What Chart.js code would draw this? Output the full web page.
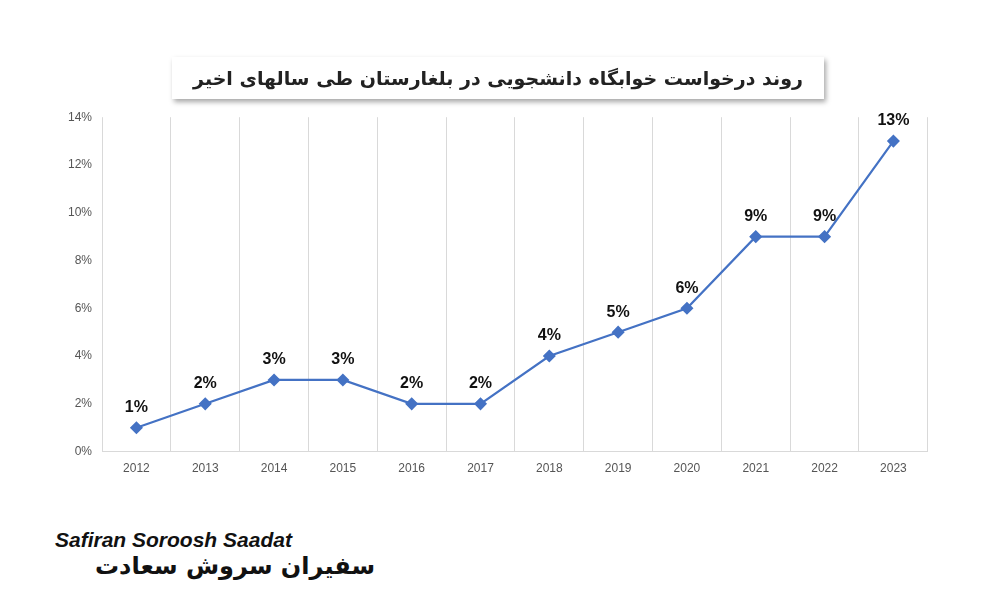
<!DOCTYPE html>
<html>
<head>
<meta charset="utf-8">
<script src="https://cdn.jsdelivr.net/npm/chart.js@4/dist/chart.umd.min.js"></script>
<style>
  body { margin: 0; background: #fff; }
  #wrap { position: relative; width: 1000px; height: 600px; }
  #title {
    position: absolute; left: 172px; top: 57px; width: 652px; height: 42px;
    background: #fff; box-shadow: 2px 3px 5px rgba(0,0,0,0.35);
    font: bold 19px "DejaVu Sans", "Noto Sans", sans-serif; color: #222;
    text-align: center; line-height: 42px; direction: rtl; white-space: nowrap;
  }
  #logo { position: absolute; left: 55px; top: 528px; font: bold italic 21px "Liberation Sans", sans-serif; color: #111; }
  #logo2 { position: absolute; left: 95px; top: 552px; font: bold 24px "DejaVu Sans", sans-serif; color: #111; direction: rtl; }
  #chartBox { position: absolute; left: 58px; top: 100px; width: 877px; height: 386px; }
</style>
</head>
<body>
<div id="wrap">
  <div id="chartBox"><canvas id="myChart"></canvas></div>
  <div id="title">روند درخواست خوابگاه دانشجویی در بلغارستان طی سالهای اخیر</div>
  <div id="logo">Safiran Soroosh Saadat</div>
  <div id="logo2">سفیران سروش سعادت</div>
</div>
<script>
const years = ['2012','2013','2014','2015','2016','2017','2018','2019','2020','2021','2022','2023'];
const values = [1, 2, 3, 3, 2, 2, 4, 5, 6, 9, 9, 13];

// draws the "n%" label over each point
const pointLabels = {
    id: 'pointLabels',
    afterDatasetsDraw(chart) {
        const ctx = chart.ctx;
        const meta = chart.getDatasetMeta(0);
        ctx.save();
        ctx.font = 'bold 16px "Liberation Sans", Arial, sans-serif';
        ctx.fillStyle = '#111';
        ctx.textAlign = 'center';
        ctx.textBaseline = 'bottom';
        meta.data.forEach((p, i) => {
            ctx.fillText(values[i] + '%', p.x, p.y - 12);
        });
        ctx.restore();
    }
};

new Chart(document.getElementById('myChart'), {
    type: 'line',
    data: {
        labels: years,
        datasets: [{
            data: values,
            borderColor: '#4472c4',
            backgroundColor: '#4472c4',
            borderWidth: 2.2,
            pointStyle: 'rectRot',
            pointRadius: 5,
            pointHoverRadius: 5,
            tension: 0
        }]
    },
    options: {
        responsive: true,
        maintainAspectRatio: false,
        animation: false,
        layout: { padding: { top: 10, right: 0 } },
        plugins: { legend: { display: false }, tooltip: { enabled: false } },
        scales: {
            x: {
                offset: true,
                grid: { offset: true, color: '#d9d9d9', drawTicks: false },
                border: { color: '#d9d9d9' },
                ticks: { color: '#555', padding: 10, font: { size: 12, family: 'Liberation Sans' } }
            },
            y: {
                min: 0, max: 14,
                grid: { display: false, drawTicks: false },
                border: { display: false },
                ticks: {
                    stepSize: 2, color: '#555', padding: 10,
                    font: { size: 12, family: 'Liberation Sans' },
                    callback: v => v + '%'
                }
            }
        }
    },
    plugins: [pointLabels]
});
</script>
</body>
</html>
